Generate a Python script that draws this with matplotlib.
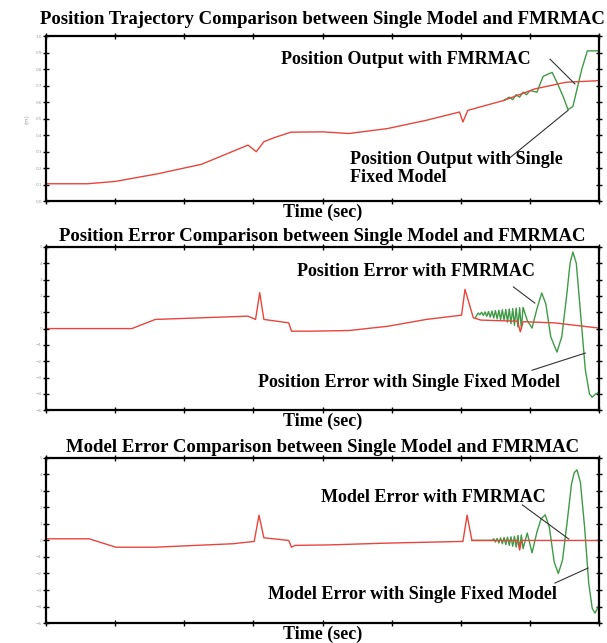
import numpy as np
import matplotlib.pyplot as plt

# panel 1: position trajectory
t1_red = [0, 6, 10, 16, 22.5, 29.2, 30.4, 31.5, 33, 35.4, 40, 43.8, 49.4, 55, 59.8, 60.3, 61, 66.2, 70.7, 75.2, 80]
y1_red = [0.106, 0.106, 0.12, 0.165, 0.224, 0.34, 0.30, 0.36, 0.385, 0.418, 0.42, 0.41, 0.44, 0.49, 0.54, 0.48, 0.55, 0.61, 0.68, 0.72, 0.73]
t1_green = [66.2, 67, 67.5, 68, 68.5, 69, 69.5, 70, 71, 71.9, 73.2, 73.9, 74.8, 75.5, 76.2, 77.5, 78.3, 80]
y1_green = [0.61, 0.63, 0.615, 0.645, 0.63, 0.66, 0.645, 0.67, 0.66, 0.756, 0.78, 0.72, 0.634, 0.555, 0.573, 0.80, 0.91, 0.91]

# panel 2: position error
t2_red = [0, 12.4, 15.8, 29.2, 30.3, 30.9, 31.5, 35.1, 35.5, 38.2, 43.8, 49.4, 55, 60.1, 60.6, 61.8, 62.9, 68.2, 68.6, 69, 73.5, 80]
y2_red = [0, 0, 0.56, 0.76, 0.56, 2.2, 0.56, 0.35, -0.16, -0.16, -0.12, 0.14, 0.56, 0.82, 2.4, 0.66, 0.52, 0.45, -0.2, 0.42, 0.35, 0.03]
t2_green = [62.1, 62.5, 62.75, 63, 63.25, 63.5, 63.75, 64, 64.25, 64.5, 64.75, 65, 65.25, 65.5, 65.75, 66, 66.25,
            66.5, 66.75, 67, 67.25, 67.5, 67.75, 68, 68.25, 68.5, 68.75, 69, 69.6, 70.3, 71, 71.7,
            72.3, 73.0, 73.9, 74.6, 75.3, 75.8, 76.2, 76.7, 77.3, 78.0, 78.6, 79.0, 79.5, 80]
y2_green = [0.66, 0.95, 0.85, 1.0, 0.8, 1.02, 0.75, 1.05, 0.7, 1.07, 0.65, 1.1, 0.6, 1.12, 0.55, 1.15, 0.5,
            1.17, 0.4, 1.2, 0.3, 1.22, 0.2, 1.25, 0.1, 1.28, 0.0, 1.3, 0.5, 0.03, 1.2, 2.18,
            1.5, -0.5, -1.44, -0.5, 2.0, 4.0, 4.69, 4.0, 1.0, -2.5, -4.0, -4.2, -4.0, -3.9]

# panel 3: model error
t3_red = [0, 6.2, 10.1, 15.8, 27, 30.1, 30.8, 31.5, 35.1, 35.5, 36, 41, 49.4, 60.3, 60.9, 61.6, 68.2, 68.5, 68.8, 80]
y3_red = [0.1, 0.1, -0.41, -0.41, -0.2, -0.06, 1.53, 0.16, 0, -0.41, -0.3, -0.27, -0.16, -0.06, 1.53, 0, 0, -0.58, 0, 0]
t3_green = [61.6, 64.5, 64.75, 65, 65.25, 65.5, 65.75, 66, 66.25, 66.5, 66.75, 67, 67.25, 67.5, 67.75, 68, 68.25,
            68.5, 68.75, 69, 69.6, 70.3, 71, 71.6, 72.2, 72.8, 73.5, 74.1, 74.7, 75.4, 76.0, 76.4, 76.8,
            77.3, 77.9, 78.5, 79.0, 79.4, 79.8, 80]
y3_green = [0, 0, 0.1, -0.1, 0.12, -0.15, 0.15, -0.2, 0.18, -0.25, 0.2, -0.3, 0.22, -0.35, 0.25, -0.4, 0.3,
            -0.45, 0.33, -0.5, 0.45, -0.75, 0.5, 1.3, 1.55, 0.8, -1.3, -2.0, -1.2, 1.2, 3.4, 4.1, 4.27,
            3.5, 0.8, -2.6, -4.1, -4.4, -4.1, -3.8]

titles = ["Position Trajectory Comparison between Single Model and FMRMAC",
          "Position Error Comparison between Single Model and FMRMAC",
          "Model Error Comparison between Single Model and FMRMAC"]

serif = ['Liberation Serif', 'DejaVu Serif']
red = '#e8453c'
green = '#3f9a45'
fs = 13

fig = plt.figure(figsize=(6.07, 6.43), dpi=100)
rects = [[0.076, 0.687, 0.911, 0.257],
         [0.076, 0.362, 0.911, 0.254],
         [0.076, 0.031, 0.911, 0.257]]
data = [(t1_red, y1_red, t1_green, y1_green),
        (t2_red, y2_red, t2_green, y2_green),
        (t3_red, y3_red, t3_green, y3_green)]
ylims = [(0, 1), (-5, 5), (-5, 5)]
pads = [9, 4, 4]

axes = []
for i in range(3):
    ax = fig.add_axes(rects[i])
    tr, yr, tg, yg = data[i]
    ax.plot(tg, yg, color=green, lw=1.0)
    ax.plot(tr, yr, color=red, lw=1.0)
    ax.set_xlim(0, 80)
    ax.set_ylim(*ylims[i])
    ax.set_xticks(np.arange(0, 81, 10))
    lo, hi = ylims[i]
    ax.set_yticks(np.linspace(lo, hi, 11))
    ax.tick_params(direction='inout', length=4, width=1, top=True, right=True,
                   labelbottom=False, labelsize=3, labelcolor='#999999', pad=1)
    for s in ax.spines.values():
        s.set_linewidth(1.6)
    ax.set_title(titles[i], family=serif, fontweight='bold', fontsize=13.5, pad=pads[i])
    ax.set_xlabel("Time (sec)", family=serif, fontweight='bold', fontsize=fs, labelpad=0)
    axes.append(ax)

axes[0].set_ylabel("(m)", fontsize=4, color='#999999', labelpad=4)

lc = '#333333'

ax = axes[0]
ax.text(52, 0.86, "Position Output with FMRMAC", family=serif, fontweight='bold', fontsize=fs, ha='center', va='center')
ax.plot([72.9, 76.5], [0.86, 0.71], color=lc, lw=0.8)
ax.text(44, 0.2, "Position Output with Single\nFixed Model", family=serif, fontweight='bold', fontsize=fs,
        ha='left', va='center', linespacing=1.1)
ax.plot([67, 75.5], [0.26, 0.55], color=lc, lw=0.8)

ax = axes[1]
ax.text(53.5, 3.5, "Position Error with FMRMAC", family=serif, fontweight='bold', fontsize=fs, ha='center', va='center')
ax.plot([67.6, 70.7], [2.55, 1.56], color=lc, lw=0.8)
ax.text(52.5, -3.3, "Position Error with Single Fixed Model", family=serif, fontweight='bold', fontsize=fs, ha='center', va='center')
ax.plot([70.3, 78.0], [-2.55, -1.5], color=lc, lw=0.8)

ax = axes[2]
ax.text(56, 2.6, "Model Error with FMRMAC", family=serif, fontweight='bold', fontsize=fs, ha='center', va='center')
ax.plot([68.9, 75.6], [2.15, 0.09], color=lc, lw=0.8)
ax.text(53, -3.3, "Model Error with Single Fixed Model", family=serif, fontweight='bold', fontsize=fs, ha='center', va='center')
ax.plot([73.6, 78.4], [-2.58, -1.67], color=lc, lw=0.8)

fig.savefig("out.png", dpi=100)
